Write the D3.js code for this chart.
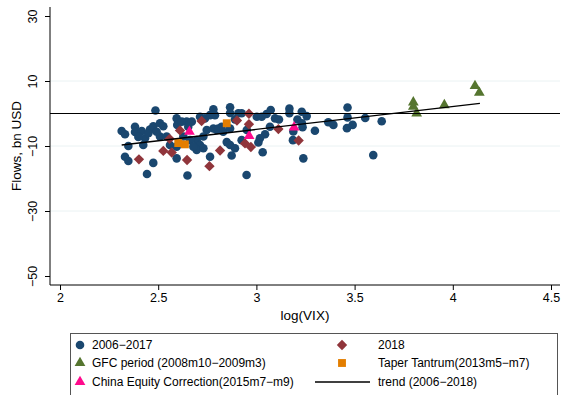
<!DOCTYPE html>
<html>
<head>
<meta charset="utf-8">
<script src="https://cdnjs.cloudflare.com/ajax/libs/d3/7.8.5/d3.min.js"></script>
<style>
  body { margin: 0; background: #fff; }
  svg { display: block; font-family: "Liberation Sans", Arial, sans-serif; }
</style>
</head>
<body>
<div id="chart"></div>
<script>
// data: [log(VIX), flows bn USD]
var base0617 = [
  [2.314,-5.4],[2.331,-6.4],[2.348,-10.0],[2.331,-13.3],[2.348,-14.6],[2.382,-4.1],[2.382,-5.7],
  [2.416,-5.4],[2.458,-4.9],[2.475,-3.9],[2.509,-3.0],[2.526,-3.9],[2.486,0.9],[2.443,-18.6],
  [2.475,-15.2],[2.424,-9.7],[2.433,-7.6],[2.509,-7.1],[2.543,-7.1],[2.560,-9.7],[2.594,-1.5],
  [2.597,-3.5],[2.594,-13.8],[2.594,-10.2],[2.399,-7.2],[2.450,-6.1],[2.492,-5.6],
  [2.645,-2.5],[2.671,-2.5],[2.653,-4.1],[2.620,-2.5],[2.713,-1.0],[2.738,-1.5],[2.764,-0.5],
  [2.781,1.3],[2.789,-0.5],[2.866,1.9],[2.866,0.15],[2.908,0.1],[2.891,-1.8],[2.823,-4.1],
  [2.798,-5.1],[2.747,-5.1],[2.730,-7.1],[2.696,-8.2],[2.713,-9.7],[2.696,-11.2],[2.730,-10.7],
  [2.764,-13.3],[2.849,-8.8],[2.866,-9.7],[2.891,-10.7],[2.874,-12.9],[2.925,-8.2],[2.951,-5.1],
  [2.628,-7.1],[2.662,-8.2],[2.679,-10.2],[2.649,-19.1],[2.950,-18.9],[2.781,-4.6],[2.806,-4.6],
  [2.831,-5.6],[2.866,-4.6],[2.925,0.06],
  [3.002,-1.0],[3.027,-1.0],[3.052,-0.15],[3.073,1.1],[3.095,-1.5],[3.115,-1.85],[3.168,1.5],
  [3.168,0.06],[3.231,0.55],[3.256,-0.8],[3.209,-1.85],[3.232,-3.0],[3.235,-4.2],[3.188,-5.5],
  [3.298,-5.3],[3.366,-2.7],[3.392,-3.5],[3.464,1.85],[3.464,-1.2],[3.461,-4.5],[3.490,-3.5],
  [3.554,-1.4],[3.638,-2.4],[3.069,-4.1],[3.044,-6.4],[3.018,-7.6],[3.010,-8.9],[3.032,-11.9],
  [3.186,-8.2],[3.239,-13.8],[3.595,-12.8]
];
var gfc = [[3.799,3.45],[3.799,2.1],[3.816,0.06],[3.957,2.6],[4.113,8.5],[4.135,6.4]];
var y2018 = [
  [2.402,-14.1],[2.611,-5.2],[2.558,-7.8],[2.526,-11.5],[2.569,-12.0],[2.647,-14.3],[2.721,-2.3],
  [2.761,-16.2],[2.815,-11.4],[2.901,-2.15],[2.962,-0.06],[2.962,-3.3],[2.942,-9.2],[2.972,-10.3],
  [3.112,-4.8],[3.215,-8.3]
];
var taper = [[2.602,-9.1],[2.636,-9.5],[2.849,-3.0]];
var chinaEq = [[2.659,-5.6],[2.963,-6.9],[3.192,-4.25]];
var trendPts = [[2.314,-9.7],[4.138,3.1]];

var xTicks = [2, 2.5, 3, 3.5, 4, 4.5];
var yTicks = [-50, -30, -10, 10, 30];
var gridTicks = [-30, -10, 10];

var W = 563, H = 395;
var svg = d3.select("#chart").append("svg").attr("width", W).attr("height", H);

var x = d3.scaleLinear().domain([2, 4.5]).range([60, 551]);
var y = d3.scaleLinear().domain([-50, 30]).range([276, 16]);
var plotL = 50, plotR = 560, plotT = 7, plotB = 285;

// grid
svg.selectAll(".grid").data(gridTicks).enter().append("line")
  .attr("x1", plotL).attr("x2", plotR)
  .attr("y1", function(d){ return y(d); }).attr("y2", function(d){ return y(d); })
  .attr("stroke", "#eaf2f3").attr("stroke-width", 1);

// axes
var yAxis = svg.append("g").attr("transform", "translate(" + plotL + ",0)")
  .call(d3.axisLeft(y).tickValues(yTicks).tickSize(5).tickFormat(function(d){ return String(d).replace("-", "\u2212"); }));
yAxis.select(".domain").attr("d", "M0," + plotT + "V" + plotB);
yAxis.selectAll(".tick text")
  .attr("x", 0).attr("y", 0).attr("dy", null)
  .attr("transform", "translate(-13,0) rotate(-90)")
  .style("text-anchor", "middle")
  .attr("font-size", 12.5).attr("fill", "#000");

var xAxis = svg.append("g").attr("transform", "translate(0," + plotB + ")")
  .call(d3.axisBottom(x).tickValues(xTicks).tickSize(5).tickFormat(function(d){ return d; }));
xAxis.select(".domain").attr("d", "M" + plotL + ",0H" + plotR);
xAxis.selectAll(".tick text").attr("y", 8).attr("dy", "0.71em")
  .attr("font-size", 12.5).attr("fill", "#000");
svg.selectAll(".domain, .tick line").attr("stroke", "#000");

svg.append("text").attr("x", 305).attr("y", 320).attr("text-anchor", "middle")
  .attr("font-size", 13.5).text("log(VIX)");
svg.append("text").attr("transform", "translate(21,146) rotate(-90)")
  .attr("text-anchor", "middle").attr("font-size", 13.5).text("Flows, bn USD");

// markers
var circ = d3.symbol().type(d3.symbolCircle).size(58);
var tri = d3.symbol().type(d3.symbolTriangle).size(50);
var sq = d3.symbol().type(d3.symbolSquare).size(62);
var dia = d3.symbol().type(d3.symbolSquare).size(54);

function plot(data, sym, color, rot) {
  svg.append("g").selectAll("path").data(data).enter().append("path")
    .attr("d", sym)
    .attr("transform", function(d){ return "translate(" + x(d[0]) + "," + y(d[1]) + ")" + (rot ? " rotate(45)" : ""); })
    .attr("fill", color);
}
plot(base0617, circ, "#1a476f");
plot(gfc, tri, "#55752f");
plot(y2018, dia, "#90353b", true);
plot(taper, sq, "#e37e00");
plot(chinaEq, tri, "#ff0a8c");

// zero line and trend
svg.append("line").attr("x1", plotL).attr("x2", plotR).attr("y1", y(0)).attr("y2", y(0))
  .attr("stroke", "#000").attr("stroke-width", 1.2);
svg.append("line")
  .attr("x1", x(trendPts[0][0])).attr("y1", y(trendPts[0][1]))
  .attr("x2", x(trendPts[1][0])).attr("y2", y(trendPts[1][1]))
  .attr("stroke", "#000").attr("stroke-width", 1.4);

// legend
var lg = svg.append("g");
lg.append("rect").attr("x", 70.5).attr("y", 333.5).attr("width", 487).attr("height", 70)
  .attr("fill", "#fff").attr("stroke", "#555").attr("stroke-width", 1);
var legendItems = [
  {label: "2006\u22122017", col: 0, row: 0, sym: circ, color: "#1a476f"},
  {label: "2018", col: 1, row: 0, sym: dia, color: "#90353b", rot: true},
  {label: "GFC period (2008m10\u22122009m3)", col: 0, row: 1, sym: tri, color: "#55752f"},
  {label: "Taper Tantrum(2013m5\u2212m7)", col: 1, row: 1, sym: sq, color: "#e37e00"},
  {label: "China Equity Correction(2015m7\u2212m9)", col: 0, row: 2, sym: tri, color: "#ff0a8c"},
  {label: "trend (2006\u22122018)", col: 1, row: 2, line: true}
];
var rowY = [345, 363, 382];
legendItems.forEach(function(it){
  var yy = rowY[it.row];
  var mx = it.col === 0 ? 80 : 342;
  var tx = it.col === 0 ? 92 : 378;
  if (it.line) {
    lg.append("line").attr("x1", 315).attr("x2", 370).attr("y1", yy).attr("y2", yy)
      .attr("stroke", "#000").attr("stroke-width", 1.4);
  } else {
    lg.append("path").attr("d", it.sym)
      .attr("transform", "translate(" + mx + "," + yy + ")" + (it.rot ? " rotate(45)" : ""))
      .attr("fill", it.color);
  }
  lg.append("text").attr("x", tx).attr("y", yy).attr("dy", "0.35em")
    .attr("font-size", 12).text(it.label);
});
</script>
</body>
</html>
